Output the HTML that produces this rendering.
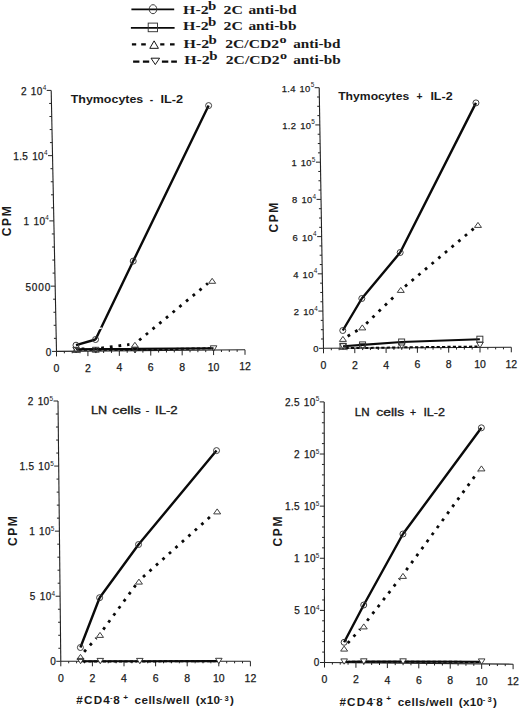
<!DOCTYPE html>
<html><head><meta charset="utf-8"><title>Figure</title>
<style>
html,body{margin:0;padding:0;background:#fff;}
body{width:520px;height:711px;overflow:hidden;}
svg{display:block;}
text{font-family:"Liberation Sans",sans-serif;fill:#1a1a1a;}
.ax line{stroke:#222;}
.data path{stroke:#0a0a0a;}
.leg path{stroke:#0a0a0a;}
.mk{fill:none;stroke:#333;stroke-width:0.95;}
.yl{font-size:10px;letter-spacing:0.3px;word-spacing:1.0px;stroke:#1a1a1a;stroke-width:0.25px;}
.ys{font-size:6.4px;}
.xl{font-size:10.5px;stroke:#1a1a1a;stroke-width:0.25px;}
.tb{font-size:10.3px;font-weight:bold;}
.tn{font-size:10.4px;font-weight:normal;stroke:#1a1a1a;stroke-width:0.32px;}
.cpm{font-size:12px;font-weight:bold;letter-spacing:1.6px;}
.xal{font-size:10.8px;font-weight:bold;}
.xas{font-size:7px;font-weight:bold;}
.xas2{font-size:7.6px;font-weight:bold;}
.sup2{font-size:7.5px;}
.lg{font-family:"Liberation Serif",serif;font-weight:bold;font-size:12.3px;}
.lgb{font-family:"Liberation Serif",serif;font-weight:bold;font-size:12.5px;}
.lgo{font-family:"Liberation Serif",serif;font-weight:bold;font-size:11px;}
</style></head><body>
<svg width="520" height="711" viewBox="0 0 520 711">
<rect width="520" height="711" fill="#fff"/>
<g class="ax">
<line x1="56.5" y1="351.4" x2="51.2" y2="90.4" stroke-width="1.1"/>
<line x1="56.5" y1="351.4" x2="245" y2="349.8" stroke-width="1.1"/>
<line x1="56.5" y1="351.4" x2="52" y2="351.4" stroke-width="1"/>
<line x1="56.23" y1="338.35" x2="53.94" y2="338.35" stroke-width="1"/>
<line x1="55.97" y1="325.3" x2="53.67" y2="325.3" stroke-width="1"/>
<line x1="55.7" y1="312.25" x2="53.41" y2="312.25" stroke-width="1"/>
<line x1="55.44" y1="299.2" x2="53.14" y2="299.2" stroke-width="1"/>
<line x1="55.17" y1="286.15" x2="50.67" y2="286.15" stroke-width="1"/>
<line x1="54.91" y1="273.1" x2="52.61" y2="273.1" stroke-width="1"/>
<line x1="54.65" y1="260.05" x2="52.35" y2="260.05" stroke-width="1"/>
<line x1="54.38" y1="247" x2="52.08" y2="247" stroke-width="1"/>
<line x1="54.12" y1="233.95" x2="51.82" y2="233.95" stroke-width="1"/>
<line x1="53.85" y1="220.9" x2="49.35" y2="220.9" stroke-width="1"/>
<line x1="53.59" y1="207.85" x2="51.29" y2="207.85" stroke-width="1"/>
<line x1="53.32" y1="194.8" x2="51.02" y2="194.8" stroke-width="1"/>
<line x1="53.05" y1="181.75" x2="50.76" y2="181.75" stroke-width="1"/>
<line x1="52.79" y1="168.7" x2="50.49" y2="168.7" stroke-width="1"/>
<line x1="52.52" y1="155.65" x2="48.02" y2="155.65" stroke-width="1"/>
<line x1="52.26" y1="142.6" x2="49.96" y2="142.6" stroke-width="1"/>
<line x1="52" y1="129.55" x2="49.7" y2="129.55" stroke-width="1"/>
<line x1="51.73" y1="116.5" x2="49.43" y2="116.5" stroke-width="1"/>
<line x1="51.47" y1="103.45" x2="49.17" y2="103.45" stroke-width="1"/>
<line x1="51.2" y1="90.4" x2="46.7" y2="90.4" stroke-width="1"/>
<line x1="56.5" y1="351.4" x2="56.5" y2="356.4" stroke-width="1"/>
<line x1="64.35" y1="351.33" x2="64.35" y2="353.33" stroke-width="1"/>
<line x1="72.21" y1="351.27" x2="72.21" y2="353.27" stroke-width="1"/>
<line x1="80.06" y1="351.2" x2="80.06" y2="353.2" stroke-width="1"/>
<line x1="87.92" y1="351.13" x2="87.92" y2="356.13" stroke-width="1"/>
<line x1="95.77" y1="351.07" x2="95.77" y2="353.07" stroke-width="1"/>
<line x1="103.62" y1="351" x2="103.62" y2="353" stroke-width="1"/>
<line x1="111.48" y1="350.93" x2="111.48" y2="352.93" stroke-width="1"/>
<line x1="119.33" y1="350.87" x2="119.33" y2="355.87" stroke-width="1"/>
<line x1="127.19" y1="350.8" x2="127.19" y2="352.8" stroke-width="1"/>
<line x1="135.04" y1="350.73" x2="135.04" y2="352.73" stroke-width="1"/>
<line x1="142.9" y1="350.67" x2="142.9" y2="352.67" stroke-width="1"/>
<line x1="150.75" y1="350.6" x2="150.75" y2="355.6" stroke-width="1"/>
<line x1="158.6" y1="350.53" x2="158.6" y2="352.53" stroke-width="1"/>
<line x1="166.46" y1="350.47" x2="166.46" y2="352.47" stroke-width="1"/>
<line x1="174.31" y1="350.4" x2="174.31" y2="352.4" stroke-width="1"/>
<line x1="182.17" y1="350.33" x2="182.17" y2="355.33" stroke-width="1"/>
<line x1="190.02" y1="350.27" x2="190.02" y2="352.27" stroke-width="1"/>
<line x1="197.88" y1="350.2" x2="197.88" y2="352.2" stroke-width="1"/>
<line x1="205.73" y1="350.13" x2="205.73" y2="352.13" stroke-width="1"/>
<line x1="213.58" y1="350.07" x2="213.58" y2="355.07" stroke-width="1"/>
<line x1="221.44" y1="350" x2="221.44" y2="352" stroke-width="1"/>
<line x1="229.29" y1="349.93" x2="229.29" y2="351.93" stroke-width="1"/>
<line x1="237.15" y1="349.87" x2="237.15" y2="351.87" stroke-width="1"/>
<line x1="245" y1="349.8" x2="245" y2="354.8" stroke-width="1"/>
</g>
<text x="51.7" y="355.9" class="yl" style="font-size:10px" text-anchor="end">0</text>
<text x="51.27" y="290.65" class="yl" style="font-size:10px;letter-spacing:0.9px" text-anchor="end">5000</text>
<text x="48.85" y="220.4" class="ys" text-anchor="end">4</text>
<text x="45.25" y="225.4" class="yl" style="font-size:10px" text-anchor="end">1&#160;10</text>
<text x="47.52" y="155.15" class="ys" text-anchor="end">4</text>
<text x="43.92" y="160.15" class="yl" style="font-size:10px" text-anchor="end">1.5&#160;10</text>
<text x="46.2" y="89.9" class="ys" text-anchor="end">4</text>
<text x="42.6" y="94.9" class="yl" style="font-size:10px" text-anchor="end">2&#160;10</text>
<text x="56.5" y="372" class="xl" text-anchor="middle">0</text>
<text x="87.92" y="371.73" class="xl" text-anchor="middle">2</text>
<text x="119.33" y="371.47" class="xl" text-anchor="middle">4</text>
<text x="150.75" y="371.2" class="xl" text-anchor="middle">6</text>
<text x="182.17" y="370.93" class="xl" text-anchor="middle">8</text>
<text x="213.58" y="370.67" class="xl" text-anchor="middle">10</text>
<text x="245" y="370.4" class="xl" text-anchor="middle">12</text>
<text x="70.7" y="103" class="tb" textLength="72.6" lengthAdjust="spacingAndGlyphs">Thymocytes</text>
<text x="149.8" y="103" class="tb">-</text>
<text x="160.4" y="103" class="tb" textLength="22.6" lengthAdjust="spacingAndGlyphs">IL-2</text>
<text class="cpm" transform="translate(6.6 220.5) rotate(-90)" x="0" y="0" text-anchor="middle" dy="4.3">CPM</text>
<g class="data">
<path d="M76.1 349.3L95.73 349.1M95.73 349.1L135 348.9M135 348.9L213.55 348.3" stroke-width="2.1" fill="none" stroke-linecap="butt"/>
<path d="M78.6 349.7L93.24 349.7M98.24 349.7L132.52 349.7M137.52 349.65L211.05 348.25" stroke-width="2" stroke-dasharray="3.2 2.2" fill="none" stroke-linecap="butt"/>
<path d="M81.59 348.84L90.22 348.76M101.18 348.02L129.44 344.48M139.14 340.29L207.92 283.31" stroke-width="2.8" stroke-dasharray="2.8 5.9" fill="none" stroke-linecap="butt"/>
<path d="M76.01 345.2L95.54 339.5M95.54 339.5L133.22 261.1M133.22 261.1L208.62 105.6" stroke-width="2.4" fill="none" stroke-linecap="butt"/>
<path d="M97.6 328.9L101.8 328.0" stroke="#fff" stroke-width="1.3" fill="none" style="stroke:#fff"/>
</g><g class="mks">
<path d="M76.1 353L79.4 347.3L72.8 347.3Z" class="mk"/>
<path d="M95.74 353L99.04 347.3L92.44 347.3Z" class="mk"/>
<path d="M135.02 353L138.32 347.3L131.72 347.3Z" class="mk"/>
<path d="M213.55 351.5L216.85 345.8L210.25 345.8Z" class="mk"/>
<path d="M76.09 347.4L79.59 352.4L72.59 352.4Z" class="mk"/>
<path d="M95.72 347.2L99.22 352.2L92.22 352.2Z" class="mk"/>
<path d="M134.9 342.3L138.4 347.3L131.4 347.3Z" class="mk"/>
<path d="M212.16 278.3L215.66 283.3L208.66 283.3Z" class="mk"/>
<circle cx="76.01" cy="345.2" r="3" class="mk"/>
<circle cx="95.54" cy="339.5" r="3" class="mk"/>
<circle cx="133.22" cy="261.1" r="3" class="mk"/>
<circle cx="208.62" cy="105.6" r="3" class="mk"/>
</g>
<g class="ax">
<line x1="323.5" y1="348.3" x2="319.2" y2="87.7" stroke-width="1.1"/>
<line x1="323.5" y1="348.3" x2="511.3" y2="347.3" stroke-width="1.1"/>
<line x1="323.5" y1="348.3" x2="319" y2="348.3" stroke-width="1"/>
<line x1="323.35" y1="338.99" x2="321.05" y2="338.99" stroke-width="1"/>
<line x1="323.19" y1="329.69" x2="320.89" y2="329.69" stroke-width="1"/>
<line x1="323.04" y1="320.38" x2="320.74" y2="320.38" stroke-width="1"/>
<line x1="322.89" y1="311.07" x2="318.39" y2="311.07" stroke-width="1"/>
<line x1="322.73" y1="301.76" x2="320.43" y2="301.76" stroke-width="1"/>
<line x1="322.58" y1="292.46" x2="320.28" y2="292.46" stroke-width="1"/>
<line x1="322.43" y1="283.15" x2="320.12" y2="283.15" stroke-width="1"/>
<line x1="322.27" y1="273.84" x2="317.77" y2="273.84" stroke-width="1"/>
<line x1="322.12" y1="264.54" x2="319.82" y2="264.54" stroke-width="1"/>
<line x1="321.96" y1="255.23" x2="319.66" y2="255.23" stroke-width="1"/>
<line x1="321.81" y1="245.92" x2="319.51" y2="245.92" stroke-width="1"/>
<line x1="321.66" y1="236.61" x2="317.16" y2="236.61" stroke-width="1"/>
<line x1="321.5" y1="227.31" x2="319.2" y2="227.31" stroke-width="1"/>
<line x1="321.35" y1="218" x2="319.05" y2="218" stroke-width="1"/>
<line x1="321.2" y1="208.69" x2="318.9" y2="208.69" stroke-width="1"/>
<line x1="321.04" y1="199.39" x2="316.54" y2="199.39" stroke-width="1"/>
<line x1="320.89" y1="190.08" x2="318.59" y2="190.08" stroke-width="1"/>
<line x1="320.74" y1="180.77" x2="318.44" y2="180.77" stroke-width="1"/>
<line x1="320.58" y1="171.46" x2="318.28" y2="171.46" stroke-width="1"/>
<line x1="320.43" y1="162.16" x2="315.93" y2="162.16" stroke-width="1"/>
<line x1="320.27" y1="152.85" x2="317.97" y2="152.85" stroke-width="1"/>
<line x1="320.12" y1="143.54" x2="317.82" y2="143.54" stroke-width="1"/>
<line x1="319.97" y1="134.24" x2="317.67" y2="134.24" stroke-width="1"/>
<line x1="319.81" y1="124.93" x2="315.31" y2="124.93" stroke-width="1"/>
<line x1="319.66" y1="115.62" x2="317.36" y2="115.62" stroke-width="1"/>
<line x1="319.51" y1="106.31" x2="317.21" y2="106.31" stroke-width="1"/>
<line x1="319.35" y1="97.01" x2="317.05" y2="97.01" stroke-width="1"/>
<line x1="319.2" y1="87.7" x2="314.7" y2="87.7" stroke-width="1"/>
<line x1="323.5" y1="348.3" x2="323.5" y2="353.3" stroke-width="1"/>
<line x1="331.32" y1="348.26" x2="331.32" y2="350.26" stroke-width="1"/>
<line x1="339.15" y1="348.22" x2="339.15" y2="350.22" stroke-width="1"/>
<line x1="346.98" y1="348.18" x2="346.98" y2="350.18" stroke-width="1"/>
<line x1="354.8" y1="348.13" x2="354.8" y2="353.13" stroke-width="1"/>
<line x1="362.62" y1="348.09" x2="362.62" y2="350.09" stroke-width="1"/>
<line x1="370.45" y1="348.05" x2="370.45" y2="350.05" stroke-width="1"/>
<line x1="378.27" y1="348.01" x2="378.27" y2="350.01" stroke-width="1"/>
<line x1="386.1" y1="347.97" x2="386.1" y2="352.97" stroke-width="1"/>
<line x1="393.93" y1="347.93" x2="393.93" y2="349.93" stroke-width="1"/>
<line x1="401.75" y1="347.88" x2="401.75" y2="349.88" stroke-width="1"/>
<line x1="409.57" y1="347.84" x2="409.57" y2="349.84" stroke-width="1"/>
<line x1="417.4" y1="347.8" x2="417.4" y2="352.8" stroke-width="1"/>
<line x1="425.23" y1="347.76" x2="425.23" y2="349.76" stroke-width="1"/>
<line x1="433.05" y1="347.72" x2="433.05" y2="349.72" stroke-width="1"/>
<line x1="440.88" y1="347.68" x2="440.88" y2="349.68" stroke-width="1"/>
<line x1="448.7" y1="347.63" x2="448.7" y2="352.63" stroke-width="1"/>
<line x1="456.52" y1="347.59" x2="456.52" y2="349.59" stroke-width="1"/>
<line x1="464.35" y1="347.55" x2="464.35" y2="349.55" stroke-width="1"/>
<line x1="472.18" y1="347.51" x2="472.18" y2="349.51" stroke-width="1"/>
<line x1="480" y1="347.47" x2="480" y2="352.47" stroke-width="1"/>
<line x1="487.83" y1="347.43" x2="487.83" y2="349.43" stroke-width="1"/>
<line x1="495.65" y1="347.38" x2="495.65" y2="349.38" stroke-width="1"/>
<line x1="503.48" y1="347.34" x2="503.48" y2="349.34" stroke-width="1"/>
<line x1="511.3" y1="347.3" x2="511.3" y2="352.3" stroke-width="1"/>
</g>
<text x="318.7" y="352.2" class="yl" style="font-size:9.4px" text-anchor="end">0</text>
<text x="317.89" y="310.57" class="ys" text-anchor="end">4</text>
<text x="314.29" y="314.97" class="yl" style="font-size:9.4px" text-anchor="end">2&#160;10</text>
<text x="317.27" y="273.34" class="ys" text-anchor="end">4</text>
<text x="313.67" y="277.74" class="yl" style="font-size:9.4px" text-anchor="end">4&#160;10</text>
<text x="316.66" y="236.11" class="ys" text-anchor="end">4</text>
<text x="313.06" y="240.51" class="yl" style="font-size:9.4px" text-anchor="end">6&#160;10</text>
<text x="316.04" y="198.89" class="ys" text-anchor="end">4</text>
<text x="312.44" y="203.29" class="yl" style="font-size:9.4px" text-anchor="end">8&#160;10</text>
<text x="315.43" y="161.66" class="ys" text-anchor="end">5</text>
<text x="311.83" y="166.06" class="yl" style="font-size:9.4px" text-anchor="end">1&#160;10</text>
<text x="314.81" y="124.43" class="ys" text-anchor="end">5</text>
<text x="311.21" y="128.83" class="yl" style="font-size:9.4px" text-anchor="end">1.2&#160;10</text>
<text x="314.2" y="87.2" class="ys" text-anchor="end">5</text>
<text x="310.6" y="91.6" class="yl" style="font-size:9.4px" text-anchor="end">1.4&#160;10</text>
<text x="323.5" y="368.9" class="xl" text-anchor="middle">0</text>
<text x="354.8" y="368.73" class="xl" text-anchor="middle">2</text>
<text x="386.1" y="368.57" class="xl" text-anchor="middle">4</text>
<text x="417.4" y="368.4" class="xl" text-anchor="middle">6</text>
<text x="448.7" y="368.23" class="xl" text-anchor="middle">8</text>
<text x="480" y="368.07" class="xl" text-anchor="middle">10</text>
<text x="511.3" y="367.9" class="xl" text-anchor="middle">12</text>
<text x="338.2" y="100" class="tb" textLength="71" lengthAdjust="spacingAndGlyphs">Thymocytes</text>
<text x="416.4" y="100" class="tb">+</text>
<text x="430.4" y="100" class="tb" textLength="22.2" lengthAdjust="spacingAndGlyphs">IL-2</text>
<text class="cpm" transform="translate(273.8 216.8) rotate(-90)" x="0" y="0" text-anchor="middle" dy="4.3">CPM</text>
<g class="data">
<path d="M343.03 346.3L362.57 344.9M362.57 344.9L401.65 342M401.65 342L479.86 339.2" stroke-width="2.1" fill="none" stroke-linecap="butt"/>
<path d="M345.56 348L360.12 348M365.12 347.96L399.24 347.44M404.24 347.37L477.48 346.53" stroke-width="2" stroke-dasharray="3.2 2.2" fill="none" stroke-linecap="butt"/>
<path d="M347.64 336.19L357.56 330.31M366.23 323.66L396.85 293.84M405 286.46L473.77 228.54" stroke-width="2.8" stroke-dasharray="2.8 5.9" fill="none" stroke-linecap="butt"/>
<path d="M342.77 330.5L361.81 298.5M361.81 298.5L400.18 252.5M400.18 252.5L475.96 102.9" stroke-width="2.4" fill="none" stroke-linecap="butt"/>
</g><g class="mks">
<rect x="340.03" y="343.3" width="6" height="6" class="mk"/>
<rect x="359.57" y="341.9" width="6" height="6" class="mk"/>
<rect x="398.65" y="339" width="6" height="6" class="mk"/>
<rect x="476.86" y="336.2" width="6" height="6" class="mk"/>
<path d="M343.06 349.4L346.36 343.7L339.76 343.7Z" class="mk"/>
<path d="M362.62 349.4L365.92 343.7L359.32 343.7Z" class="mk"/>
<path d="M401.74 348.8L405.04 343.1L398.44 343.1Z" class="mk"/>
<path d="M479.98 347.9L483.28 342.2L476.68 342.2Z" class="mk"/>
<path d="M342.91 336.4L346.41 341.4L339.41 341.4Z" class="mk"/>
<path d="M362.29 324.9L365.79 329.9L358.79 329.9Z" class="mk"/>
<path d="M400.79 287.4L404.29 292.4L397.29 292.4Z" class="mk"/>
<path d="M477.98 222.4L481.48 227.4L474.48 227.4Z" class="mk"/>
<circle cx="342.77" cy="330.5" r="3" class="mk"/>
<circle cx="361.81" cy="298.5" r="3" class="mk"/>
<circle cx="400.18" cy="252.5" r="3" class="mk"/>
<circle cx="475.96" cy="102.9" r="3" class="mk"/>
</g>
<g class="ax">
<line x1="60.8" y1="661.3" x2="58" y2="401" stroke-width="1.1"/>
<line x1="60.8" y1="661.3" x2="250.4" y2="661.3" stroke-width="1.1"/>
<line x1="60.8" y1="661.3" x2="56.3" y2="661.3" stroke-width="1"/>
<line x1="60.66" y1="648.28" x2="58.36" y2="648.28" stroke-width="1"/>
<line x1="60.52" y1="635.27" x2="58.22" y2="635.27" stroke-width="1"/>
<line x1="60.38" y1="622.25" x2="58.08" y2="622.25" stroke-width="1"/>
<line x1="60.24" y1="609.24" x2="57.94" y2="609.24" stroke-width="1"/>
<line x1="60.1" y1="596.22" x2="55.6" y2="596.22" stroke-width="1"/>
<line x1="59.96" y1="583.21" x2="57.66" y2="583.21" stroke-width="1"/>
<line x1="59.82" y1="570.19" x2="57.52" y2="570.19" stroke-width="1"/>
<line x1="59.68" y1="557.18" x2="57.38" y2="557.18" stroke-width="1"/>
<line x1="59.54" y1="544.16" x2="57.24" y2="544.16" stroke-width="1"/>
<line x1="59.4" y1="531.15" x2="54.9" y2="531.15" stroke-width="1"/>
<line x1="59.26" y1="518.13" x2="56.96" y2="518.13" stroke-width="1"/>
<line x1="59.12" y1="505.12" x2="56.82" y2="505.12" stroke-width="1"/>
<line x1="58.98" y1="492.11" x2="56.68" y2="492.11" stroke-width="1"/>
<line x1="58.84" y1="479.09" x2="56.54" y2="479.09" stroke-width="1"/>
<line x1="58.7" y1="466.07" x2="54.2" y2="466.07" stroke-width="1"/>
<line x1="58.56" y1="453.06" x2="56.26" y2="453.06" stroke-width="1"/>
<line x1="58.42" y1="440.05" x2="56.12" y2="440.05" stroke-width="1"/>
<line x1="58.28" y1="427.03" x2="55.98" y2="427.03" stroke-width="1"/>
<line x1="58.14" y1="414.01" x2="55.84" y2="414.01" stroke-width="1"/>
<line x1="58" y1="401" x2="53.5" y2="401" stroke-width="1"/>
<line x1="60.8" y1="661.3" x2="60.8" y2="666.3" stroke-width="1"/>
<line x1="68.7" y1="661.3" x2="68.7" y2="663.3" stroke-width="1"/>
<line x1="76.6" y1="661.3" x2="76.6" y2="663.3" stroke-width="1"/>
<line x1="84.5" y1="661.3" x2="84.5" y2="663.3" stroke-width="1"/>
<line x1="92.4" y1="661.3" x2="92.4" y2="666.3" stroke-width="1"/>
<line x1="100.3" y1="661.3" x2="100.3" y2="663.3" stroke-width="1"/>
<line x1="108.2" y1="661.3" x2="108.2" y2="663.3" stroke-width="1"/>
<line x1="116.1" y1="661.3" x2="116.1" y2="663.3" stroke-width="1"/>
<line x1="124" y1="661.3" x2="124" y2="666.3" stroke-width="1"/>
<line x1="131.9" y1="661.3" x2="131.9" y2="663.3" stroke-width="1"/>
<line x1="139.8" y1="661.3" x2="139.8" y2="663.3" stroke-width="1"/>
<line x1="147.7" y1="661.3" x2="147.7" y2="663.3" stroke-width="1"/>
<line x1="155.6" y1="661.3" x2="155.6" y2="666.3" stroke-width="1"/>
<line x1="163.5" y1="661.3" x2="163.5" y2="663.3" stroke-width="1"/>
<line x1="171.4" y1="661.3" x2="171.4" y2="663.3" stroke-width="1"/>
<line x1="179.3" y1="661.3" x2="179.3" y2="663.3" stroke-width="1"/>
<line x1="187.2" y1="661.3" x2="187.2" y2="666.3" stroke-width="1"/>
<line x1="195.1" y1="661.3" x2="195.1" y2="663.3" stroke-width="1"/>
<line x1="203" y1="661.3" x2="203" y2="663.3" stroke-width="1"/>
<line x1="210.9" y1="661.3" x2="210.9" y2="663.3" stroke-width="1"/>
<line x1="218.8" y1="661.3" x2="218.8" y2="666.3" stroke-width="1"/>
<line x1="226.7" y1="661.3" x2="226.7" y2="663.3" stroke-width="1"/>
<line x1="234.6" y1="661.3" x2="234.6" y2="663.3" stroke-width="1"/>
<line x1="242.5" y1="661.3" x2="242.5" y2="663.3" stroke-width="1"/>
<line x1="250.4" y1="661.3" x2="250.4" y2="666.3" stroke-width="1"/>
</g>
<text x="56" y="665.2" class="yl" style="font-size:10px" text-anchor="end">0</text>
<text x="55.1" y="595.72" class="ys" text-anchor="end">4</text>
<text x="51.5" y="600.12" class="yl" style="font-size:10px" text-anchor="end">5&#160;10</text>
<text x="54.4" y="530.65" class="ys" text-anchor="end">5</text>
<text x="50.8" y="535.05" class="yl" style="font-size:10px" text-anchor="end">1&#160;10</text>
<text x="53.7" y="465.57" class="ys" text-anchor="end">5</text>
<text x="50.1" y="469.97" class="yl" style="font-size:10px" text-anchor="end">1.5&#160;10</text>
<text x="53" y="400.5" class="ys" text-anchor="end">5</text>
<text x="49.4" y="404.9" class="yl" style="font-size:10px" text-anchor="end">2&#160;10</text>
<text x="60.8" y="681.9" class="xl" text-anchor="middle">0</text>
<text x="92.4" y="681.9" class="xl" text-anchor="middle">2</text>
<text x="124" y="681.9" class="xl" text-anchor="middle">4</text>
<text x="155.6" y="681.9" class="xl" text-anchor="middle">6</text>
<text x="187.2" y="681.9" class="xl" text-anchor="middle">8</text>
<text x="218.8" y="681.9" class="xl" text-anchor="middle">10</text>
<text x="250.4" y="681.9" class="xl" text-anchor="middle">12</text>
<text x="90.9" y="413.7" class="tn" textLength="16.1" lengthAdjust="spacingAndGlyphs">LN</text>
<text x="112.3" y="413.7" class="tn" textLength="28.5" lengthAdjust="spacingAndGlyphs">cells</text>
<text x="145.7" y="413.7" class="tn">-</text>
<text x="155" y="413.7" class="tn" textLength="22.7" lengthAdjust="spacingAndGlyphs">IL-2</text>
<text class="cpm" transform="translate(12.8 530.3) rotate(-90)" x="0" y="0" text-anchor="middle" dy="4.3">CPM</text>
<text transform="translate(76.3 704) scale(1.08 1)" class="xal" textLength="31.02" lengthAdjust="spacing">#CD4</text>
<text transform="translate(109.9 699.6) scale(1.08 1)" class="xas" textLength="3.33" lengthAdjust="spacing">-</text>
<text transform="translate(113.2 704) scale(1.08 1)" class="xal" textLength="8.06" lengthAdjust="spacing">8</text>
<text transform="translate(123.2 699.7) scale(1.08 1)" class="xas2" textLength="4.91" lengthAdjust="spacing">+</text>
<text transform="translate(134.6 704) scale(1.08 1)" class="xal" textLength="50.93" lengthAdjust="spacing">cells/well</text>
<text transform="translate(195.7 704) scale(1.08 1)" class="xal" textLength="22.5" lengthAdjust="spacing">(x10</text>
<text transform="translate(219.7 700.7) scale(1.08 1)" class="xas" textLength="8.33" lengthAdjust="spacing">-3</text>
<text transform="translate(230 704) scale(1.08 1)" class="xal" textLength="4.81" lengthAdjust="spacing">)</text>
<g class="data">
<path d="M80.55 661.2L100.3 661.2M100.3 661.2L139.8 661.2M139.8 661.2L218.8 661.1" stroke-width="2.1" fill="none" stroke-linecap="butt"/>
<path d="M83.05 661.4L97.8 661.4M102.8 661.4L137.3 661.4M142.3 661.4L216.3 661.3" stroke-width="2" stroke-dasharray="3.2 2.2" fill="none" stroke-linecap="butt"/>
<path d="M84.14 651.89L96.36 638.11M103.25 629.56L135.69 585.14M143.03 577.03L213.08 514.17" stroke-width="2.8" stroke-dasharray="2.8 5.9" fill="none" stroke-linecap="butt"/>
<path d="M80.4 647.5L99.62 597.7M99.62 597.7L138.54 544.5M138.54 544.5L216.53 450.6" stroke-width="2.4" fill="none" stroke-linecap="butt"/>
</g><g class="mks">
<path d="M80.55 663.7L83.85 658.4L77.25 658.4Z" class="mk" style="fill:#fff"/>
<path d="M100.3 663.7L103.6 658.4L97 658.4Z" class="mk" style="fill:#fff"/>
<path d="M139.8 663.7L143.1 658.4L136.5 658.4Z" class="mk" style="fill:#fff"/>
<path d="M218.8 663.6L222.1 658.3L215.5 658.3Z" class="mk" style="fill:#fff"/>
<path d="M80.49 654.4L83.99 659.4L76.99 659.4Z" class="mk"/>
<path d="M100.01 632.4L103.51 637.4L96.51 637.4Z" class="mk"/>
<path d="M138.93 579.1L142.43 584.1L135.43 584.1Z" class="mk"/>
<path d="M217.18 508.9L220.68 513.9L213.68 513.9Z" class="mk"/>
<circle cx="80.4" cy="647.5" r="3" class="mk"/>
<circle cx="99.62" cy="597.7" r="3" class="mk"/>
<circle cx="138.54" cy="544.5" r="3" class="mk"/>
<circle cx="216.53" cy="450.6" r="3" class="mk"/>
</g>
<g class="ax">
<line x1="324.5" y1="662.5" x2="324.2" y2="401.9" stroke-width="1.1"/>
<line x1="324.5" y1="662.5" x2="513.1" y2="664.2" stroke-width="1.1"/>
<line x1="324.5" y1="662.5" x2="320" y2="662.5" stroke-width="1"/>
<line x1="324.49" y1="652.08" x2="322.19" y2="652.08" stroke-width="1"/>
<line x1="324.48" y1="641.65" x2="322.18" y2="641.65" stroke-width="1"/>
<line x1="324.46" y1="631.23" x2="322.16" y2="631.23" stroke-width="1"/>
<line x1="324.45" y1="620.8" x2="322.15" y2="620.8" stroke-width="1"/>
<line x1="324.44" y1="610.38" x2="319.94" y2="610.38" stroke-width="1"/>
<line x1="324.43" y1="599.96" x2="322.13" y2="599.96" stroke-width="1"/>
<line x1="324.42" y1="589.53" x2="322.12" y2="589.53" stroke-width="1"/>
<line x1="324.4" y1="579.11" x2="322.1" y2="579.11" stroke-width="1"/>
<line x1="324.39" y1="568.68" x2="322.09" y2="568.68" stroke-width="1"/>
<line x1="324.38" y1="558.26" x2="319.88" y2="558.26" stroke-width="1"/>
<line x1="324.37" y1="547.84" x2="322.07" y2="547.84" stroke-width="1"/>
<line x1="324.36" y1="537.41" x2="322.06" y2="537.41" stroke-width="1"/>
<line x1="324.34" y1="526.99" x2="322.04" y2="526.99" stroke-width="1"/>
<line x1="324.33" y1="516.56" x2="322.03" y2="516.56" stroke-width="1"/>
<line x1="324.32" y1="506.14" x2="319.82" y2="506.14" stroke-width="1"/>
<line x1="324.31" y1="495.72" x2="322.01" y2="495.72" stroke-width="1"/>
<line x1="324.3" y1="485.29" x2="322" y2="485.29" stroke-width="1"/>
<line x1="324.28" y1="474.87" x2="321.98" y2="474.87" stroke-width="1"/>
<line x1="324.27" y1="464.44" x2="321.97" y2="464.44" stroke-width="1"/>
<line x1="324.26" y1="454.02" x2="319.76" y2="454.02" stroke-width="1"/>
<line x1="324.25" y1="443.6" x2="321.95" y2="443.6" stroke-width="1"/>
<line x1="324.24" y1="433.17" x2="321.94" y2="433.17" stroke-width="1"/>
<line x1="324.22" y1="422.75" x2="321.92" y2="422.75" stroke-width="1"/>
<line x1="324.21" y1="412.32" x2="321.91" y2="412.32" stroke-width="1"/>
<line x1="324.2" y1="401.9" x2="319.7" y2="401.9" stroke-width="1"/>
<line x1="324.5" y1="662.5" x2="324.5" y2="667.5" stroke-width="1"/>
<line x1="332.36" y1="662.57" x2="332.36" y2="664.57" stroke-width="1"/>
<line x1="340.22" y1="662.64" x2="340.22" y2="664.64" stroke-width="1"/>
<line x1="348.07" y1="662.71" x2="348.07" y2="664.71" stroke-width="1"/>
<line x1="355.93" y1="662.78" x2="355.93" y2="667.78" stroke-width="1"/>
<line x1="363.79" y1="662.85" x2="363.79" y2="664.85" stroke-width="1"/>
<line x1="371.65" y1="662.92" x2="371.65" y2="664.92" stroke-width="1"/>
<line x1="379.51" y1="663" x2="379.51" y2="665" stroke-width="1"/>
<line x1="387.37" y1="663.07" x2="387.37" y2="668.07" stroke-width="1"/>
<line x1="395.23" y1="663.14" x2="395.23" y2="665.14" stroke-width="1"/>
<line x1="403.08" y1="663.21" x2="403.08" y2="665.21" stroke-width="1"/>
<line x1="410.94" y1="663.28" x2="410.94" y2="665.28" stroke-width="1"/>
<line x1="418.8" y1="663.35" x2="418.8" y2="668.35" stroke-width="1"/>
<line x1="426.66" y1="663.42" x2="426.66" y2="665.42" stroke-width="1"/>
<line x1="434.52" y1="663.49" x2="434.52" y2="665.49" stroke-width="1"/>
<line x1="442.38" y1="663.56" x2="442.38" y2="665.56" stroke-width="1"/>
<line x1="450.23" y1="663.63" x2="450.23" y2="668.63" stroke-width="1"/>
<line x1="458.09" y1="663.7" x2="458.09" y2="665.7" stroke-width="1"/>
<line x1="465.95" y1="663.78" x2="465.95" y2="665.78" stroke-width="1"/>
<line x1="473.81" y1="663.85" x2="473.81" y2="665.85" stroke-width="1"/>
<line x1="481.67" y1="663.92" x2="481.67" y2="668.92" stroke-width="1"/>
<line x1="489.53" y1="663.99" x2="489.53" y2="665.99" stroke-width="1"/>
<line x1="497.38" y1="664.06" x2="497.38" y2="666.06" stroke-width="1"/>
<line x1="505.24" y1="664.13" x2="505.24" y2="666.13" stroke-width="1"/>
<line x1="513.1" y1="664.2" x2="513.1" y2="669.2" stroke-width="1"/>
</g>
<text x="319.7" y="666.4" class="yl" style="font-size:10px" text-anchor="end">0</text>
<text x="319.44" y="609.88" class="ys" text-anchor="end">4</text>
<text x="315.84" y="614.28" class="yl" style="font-size:10px" text-anchor="end">5&#160;10</text>
<text x="319.38" y="557.76" class="ys" text-anchor="end">5</text>
<text x="315.78" y="562.16" class="yl" style="font-size:10px" text-anchor="end">1&#160;10</text>
<text x="319.32" y="505.64" class="ys" text-anchor="end">5</text>
<text x="315.72" y="510.04" class="yl" style="font-size:10px" text-anchor="end">1.5&#160;10</text>
<text x="319.26" y="453.52" class="ys" text-anchor="end">5</text>
<text x="315.66" y="457.92" class="yl" style="font-size:10px" text-anchor="end">2&#160;10</text>
<text x="319.2" y="401.4" class="ys" text-anchor="end">5</text>
<text x="315.6" y="405.8" class="yl" style="font-size:10px" text-anchor="end">2.5&#160;10</text>
<text x="324.5" y="683.1" class="xl" text-anchor="middle">0</text>
<text x="355.93" y="683.38" class="xl" text-anchor="middle">2</text>
<text x="387.37" y="683.67" class="xl" text-anchor="middle">4</text>
<text x="418.8" y="683.95" class="xl" text-anchor="middle">6</text>
<text x="450.23" y="684.23" class="xl" text-anchor="middle">8</text>
<text x="481.67" y="684.52" class="xl" text-anchor="middle">10</text>
<text x="513.1" y="684.8" class="xl" text-anchor="middle">12</text>
<text x="354.8" y="415.8" class="tn" textLength="14.8" lengthAdjust="spacingAndGlyphs">LN</text>
<text x="376.3" y="415.8" class="tn" textLength="27.9" lengthAdjust="spacingAndGlyphs">cells</text>
<text x="410.1" y="415.8" class="tn">+</text>
<text x="423.4" y="415.8" class="tn" textLength="21.6" lengthAdjust="spacingAndGlyphs">IL-2</text>
<text class="cpm" transform="translate(277.5 530.7) rotate(-90)" x="0" y="0" text-anchor="middle" dy="4.3">CPM</text>
<text transform="translate(339.4 705.6) scale(1.08 1)" class="xal" textLength="31.02" lengthAdjust="spacing">#CD4</text>
<text transform="translate(373 701.2) scale(1.08 1)" class="xas" textLength="3.33" lengthAdjust="spacing">-</text>
<text transform="translate(376.3 705.6) scale(1.08 1)" class="xal" textLength="8.06" lengthAdjust="spacing">8</text>
<text transform="translate(386.3 701.3) scale(1.08 1)" class="xas2" textLength="4.91" lengthAdjust="spacing">+</text>
<text transform="translate(397.7 705.6) scale(1.08 1)" class="xal" textLength="50.93" lengthAdjust="spacing">cells/well</text>
<text transform="translate(458.8 705.6) scale(1.08 1)" class="xal" textLength="22.5" lengthAdjust="spacing">(x10</text>
<text transform="translate(482.8 702.3) scale(1.08 1)" class="xas" textLength="8.33" lengthAdjust="spacing">-3</text>
<text transform="translate(493.1 705.6) scale(1.08 1)" class="xal" textLength="4.81" lengthAdjust="spacing">)</text>
<g class="data">
<path d="M344.14 661.7L363.79 661.6M363.79 661.6L403.08 661.6M403.08 661.6L481.66 661.7" stroke-width="2.1" fill="none" stroke-linecap="butt"/>
<path d="M346.64 661.89L361.29 661.81M366.29 661.8L400.58 661.8M405.58 661.8L479.16 661.9" stroke-width="2" stroke-dasharray="3.2 2.2" fill="none" stroke-linecap="butt"/>
<path d="M347.77 643.18L360.11 629.22M367.12 620.76L399.61 578.94M406.22 570.16L478.2 471.54" stroke-width="2.8" stroke-dasharray="2.8 5.9" fill="none" stroke-linecap="butt"/>
<path d="M344.12 642.3L363.73 605M363.73 605L402.93 534M402.93 534L481.39 427.8" stroke-width="2.4" fill="none" stroke-linecap="butt"/>
</g><g class="mks">
<path d="M344.14 664.2L347.44 658.9L340.84 658.9Z" class="mk" style="fill:#fff"/>
<path d="M363.79 664.1L367.09 658.8L360.49 658.8Z" class="mk" style="fill:#fff"/>
<path d="M403.08 664.1L406.38 658.8L399.78 658.8Z" class="mk" style="fill:#fff"/>
<path d="M481.66 664.2L484.96 658.9L478.36 658.9Z" class="mk" style="fill:#fff"/>
<path d="M344.13 646.1L347.63 651.1L340.63 651.1Z" class="mk"/>
<path d="M363.75 623.9L367.25 628.9L360.25 628.9Z" class="mk"/>
<path d="M402.98 573.4L406.48 578.4L399.48 578.4Z" class="mk"/>
<path d="M481.44 465.9L484.94 470.9L477.94 470.9Z" class="mk"/>
<circle cx="344.12" cy="642.3" r="3" class="mk"/>
<circle cx="363.73" cy="605" r="3" class="mk"/>
<circle cx="402.93" cy="534" r="3" class="mk"/>
<circle cx="481.39" cy="427.8" r="3" class="mk"/>
</g>
<g class="leg">
<path d="M131.4 9.3L174.2 9.3" stroke-width="1.8" fill="none"/>
<ellipse cx="153" cy="9.2" rx="3.8" ry="4.5" class="mk" fill="none" style="fill:none"/>
<path d="M130.9 27.9L174.6 27.9" stroke-width="1.8" fill="none"/>
<rect x="148.2" y="23.1" width="9.3" height="8.6" class="mk" style="fill:none"/>
<path d="M131.9 44.4h4.3M141.2 44.4h4.6M160.2 44.4h4.2M170 44.4h4.6" stroke-width="2.3" fill="none"/>
<path d="M154.1 40.86L158.41 48.34L149.79 48.34Z" class="mk"/>
<path d="M133.1 61.7h6.3M142.9 61.7h6.3M161.9 61.7h6.4M171.2 61.7h5.7" stroke-width="2.3" fill="none"/>
<path d="M155.3 64.6L159.6 58.2L151 58.2Z" class="mk"/>
</g>
<text x="183.1" y="13.8" class="lg" textLength="25.6" lengthAdjust="spacingAndGlyphs">H-2</text>
<text x="208.1" y="9.8" class="lgb" textLength="8.3" lengthAdjust="spacingAndGlyphs">b</text>
<text x="223.5" y="13.8" class="lg" textLength="19.4" lengthAdjust="spacingAndGlyphs">2C</text>
<text x="248.4" y="13.8" class="lg" textLength="48.1" lengthAdjust="spacingAndGlyphs">anti-bd</text>
<text x="183.1" y="30" class="lg" textLength="25.6" lengthAdjust="spacingAndGlyphs">H-2</text>
<text x="208.1" y="26" class="lgb" textLength="8.3" lengthAdjust="spacingAndGlyphs">b</text>
<text x="223.5" y="30" class="lg" textLength="19.4" lengthAdjust="spacingAndGlyphs">2C</text>
<text x="248.4" y="30" class="lg" textLength="48.1" lengthAdjust="spacingAndGlyphs">anti-bb</text>
<text x="183.6" y="47.6" class="lg" textLength="25.6" lengthAdjust="spacingAndGlyphs">H-2</text>
<text x="208.6" y="43.6" class="lgb" textLength="8.3" lengthAdjust="spacingAndGlyphs">b</text>
<text x="225.2" y="47.6" class="lg" textLength="53.9" lengthAdjust="spacingAndGlyphs">2C/CD2</text>
<text x="279.4" y="43.2" class="lgo" textLength="7.1" lengthAdjust="spacingAndGlyphs">o</text>
<text x="293.2" y="47.6" class="lg" textLength="47.3" lengthAdjust="spacingAndGlyphs">anti-bd</text>
<text x="184.2" y="63.5" class="lg" textLength="25.6" lengthAdjust="spacingAndGlyphs">H-2</text>
<text x="209.2" y="59.5" class="lgb" textLength="8.3" lengthAdjust="spacingAndGlyphs">b</text>
<text x="225.8" y="63.5" class="lg" textLength="53.9" lengthAdjust="spacingAndGlyphs">2C/CD2</text>
<text x="280" y="59.1" class="lgo" textLength="7.1" lengthAdjust="spacingAndGlyphs">o</text>
<text x="293.2" y="63.5" class="lg" textLength="47.6" lengthAdjust="spacingAndGlyphs">anti-bb</text>
</svg>
</body></html>
